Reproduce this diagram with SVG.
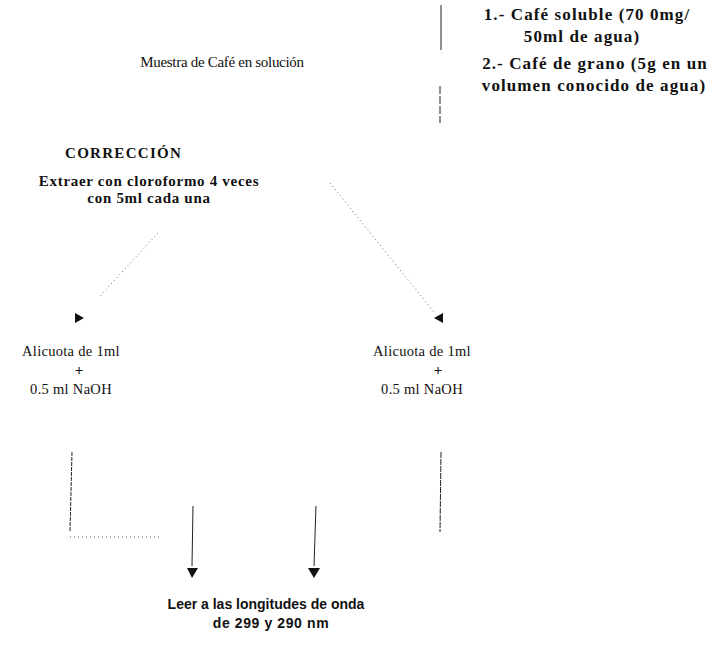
<svg xmlns="http://www.w3.org/2000/svg" width="719" height="645" viewBox="0 0 719 645">
<style>
.t{font-family:"Liberation Serif","Times New Roman",serif;fill:#111;}
.n{font-size:14.5px;letter-spacing:0.3px;}
.b{font-size:15px;font-weight:bold;}
.r{font-size:17px;font-weight:bold;letter-spacing:1.1px;}
.s{font-family:"Liberation Sans",Arial,sans-serif;font-size:14px;font-weight:bold;fill:#111;}
.ln{stroke:#222;stroke-width:1;fill:none;}
.dl{stroke:#666;stroke-width:1;fill:none;stroke-dasharray:1 3;}
.ah{fill:#111;}
</style>
<rect width="719" height="645" fill="#fff"/>
<g id="connectors">
<line class="ln" x1="441" y1="5" x2="441" y2="50"/>
<line class="ln" x1="440" y1="86" x2="440" y2="123" stroke-dasharray="8 2"/>
<line class="dl" x1="330" y1="183" x2="434" y2="312"/>
<line class="dl" x1="158" y1="233" x2="100" y2="296" stroke="#999"/>
<path class="ah" d="M443,313 L443,323 L434,318 Z"/>
<path class="ah" d="M75,313 L75,323 L84,318 Z"/>
<line class="ln" x1="72" y1="452" x2="70" y2="532" stroke-dasharray="4 1"/>
<line class="dl" x1="70" y1="537" x2="160" y2="537"/>
<line class="ln" x1="441" y1="452" x2="440" y2="532" stroke-dasharray="6 1"/>
<line class="ln" x1="193" y1="506" x2="192" y2="566"/>
<path class="ah" d="M187,568 L198,568 L192,578 Z"/>
<line class="ln" x1="316" y1="506" x2="314" y2="566"/>
<path class="ah" d="M308,568 L320,568 L314,578 Z"/>
</g>
<g id="muestra"><text class="t" font-size="15" letter-spacing="-0.3" x="222" y="67" text-anchor="middle">Muestra de Café en solución</text></g>
<g id="opt1">
<text class="t r" x="587" y="20" text-anchor="middle">1.- Café soluble (70 0mg/</text>
<text class="t r" x="582" y="42" text-anchor="middle">50ml de agua)</text>
</g>
<g id="opt2">
<text class="t r" x="595" y="69" text-anchor="middle">2.- Café de grano (5g en un</text>
<text class="t r" x="594" y="91" text-anchor="middle">volumen conocido de agua)</text>
</g>
<g id="correccion"><text class="t b" x="65" y="158" letter-spacing="1.3">CORRECCIÓN</text></g>
<g id="extraer">
<text class="t b" x="149" y="186" text-anchor="middle" letter-spacing="0.7">Extraer con cloroformo 4 veces</text>
<text class="t b" x="149" y="203" text-anchor="middle" letter-spacing="0.7">con 5ml cada una</text>
</g>
<g id="alicuota-left">
<text class="t n" x="71" y="356" text-anchor="middle">Alicuota de 1ml</text>
<text class="t b" x="79" y="375" text-anchor="middle">+</text>
<text class="t n" x="71" y="394" text-anchor="middle">0.5 ml NaOH</text>
</g>
<g id="alicuota-right">
<text class="t n" x="422" y="356" text-anchor="middle">Alicuota de 1ml</text>
<text class="t b" x="438" y="375" text-anchor="middle">+</text>
<text class="t n" x="422" y="394" text-anchor="middle">0.5 ml NaOH</text>
</g>
<g id="leer">
<text class="s" x="266" y="609" text-anchor="middle">Leer a las longitudes de onda</text>
<text class="s" x="271" y="628" text-anchor="middle" letter-spacing="0.6">de 299 y 290 nm</text>
</g>
</svg>
